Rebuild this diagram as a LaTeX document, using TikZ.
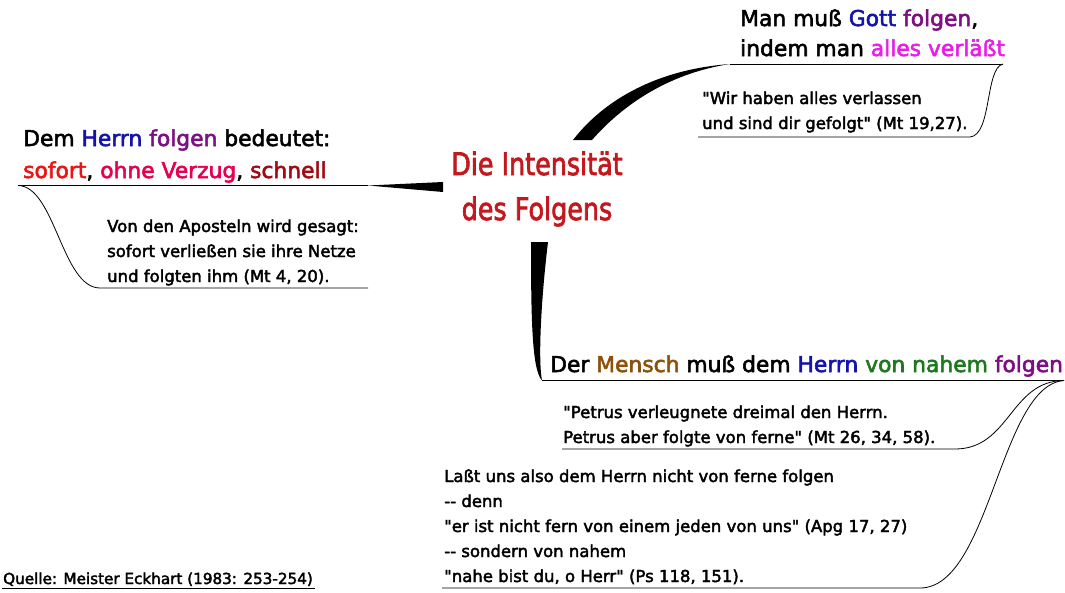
\documentclass[tikz,border=0pt]{standalone}
\usepackage{fontspec}
\usepackage{graphicx}
\usepackage{tikz}
\usetikzlibrary{positioning}

\newfontfamily\handfont[RawFeature={embolden=2.5}]{DejaVu Sans}
\newcommand\narrow[1]{\scalebox{0.82}[1]{#1}}

\definecolor{titlered}{RGB}{195,25,30}
\definecolor{herrnblue}{RGB}{20,20,170}
\definecolor{folgenpurple}{RGB}{125,15,130}
\definecolor{sofortred}{RGB}{235,20,20}
\definecolor{verzugred}{RGB}{230,0,75}
\definecolor{schnellred}{RGB}{160,10,20}
\definecolor{allesmagenta}{RGB}{230,30,230}
\definecolor{menschbrown}{RGB}{140,80,10}
\definecolor{nahemgreen}{RGB}{30,120,30}

\tikzset{
  branch/.style={anchor=base west, inner sep=0pt, align=left,
    font={\handfont\fontsize{21.8}{32}\selectfont}},
  detail/.style={anchor=base west, inner sep=0pt, align=left,
    font={\handfont\fontsize{16.5}{25}\selectfont}},
  twig/.style={line width=0.8pt}
}

\begin{document}
\begin{tikzpicture}[x=1pt,y=-1pt]
  \useasboundingbox (0,0) rectangle (1065,592);

  % centre
  \node[anchor=base, align=center, inner sep=0pt, text=titlered,
    font={\handfont\fontsize{31}{45}\selectfont}] (title) at (537,220)
    {\narrow{Die Intensität}\\\narrow{des Folgens}};

  % left branch
  \node[branch] (dem) at (23,178) {Dem \textcolor{herrnblue}{Herrn} \textcolor{folgenpurple}{folgen} bedeutet:\\
    \textcolor{sofortred}{sofort}, \textcolor{verzugred}{ohne Verzug}, \textcolor{schnellred}{schnell}};
  \node[detail] (apostel) at (107,282) {Von den Aposteln wird gesagt:\\sofort verließen sie ihre Netze\\und folgten ihm (Mt 4, 20).};
  \coordinate (demL) at (18,185.5);
  \coordinate (demR) at (368,185.5);
  \coordinate (titleW) at (443,187);
  \coordinate (apostelL) at (100,288);
  \coordinate (apostelR) at (368,288);
  \draw[twig] (demL) -- (demR);
  \fill (demR) -- ([yshift=5pt]titleW) -- ([yshift=-5pt]titleW) -- cycle;
  \draw[twig] (demL) .. controls (55,186) and (62,288) .. (apostelL) -- (apostelR);

  % upper right branch
  \node[branch] (gott) at (740,56) {Man muß \textcolor{herrnblue}{Gott} \textcolor{folgenpurple}{folgen},\\[-2pt]
    indem man \textcolor{allesmagenta}{alles verläßt}};
  \node[detail] (verlassen) at (702,129) {"Wir haben alles verlassen\\und sind dir gefolgt" (Mt 19,27).};
  \coordinate (gottL) at (730,64);
  \coordinate (gottR) at (1003,64);
  \coordinate (verlassenL) at (698,137);
  \fill (573,140) .. controls (600,105) and (650,70) .. (gottL)
        .. controls (665,74) and (620,108) .. (592,140) -- cycle;
  \draw[twig] (gottL) -- (gottR);
  \draw[twig] (gottR) .. controls (985,68) and (992,135) .. (970,137) -- (verlassenL);

  % lower branch
  \node[branch] (mensch) at (550,372) {Der \textcolor{menschbrown}{Mensch} muß dem \textcolor{herrnblue}{Herrn} \textcolor{nahemgreen}{von nahem} \textcolor{folgenpurple}{folgen}};
  \node[detail] (petrus) at (563,443) {"Petrus verleugnete dreimal den Herrn.\\Petrus aber folgte von ferne" (Mt 26, 34, 58).};
  \node[detail] (fern) at (444,582) {Laßt uns also dem Herrn nicht von ferne folgen\\-- denn\\"er ist nicht fern von einem jeden von uns" (Apg 17, 27)\\-- sondern von nahem\\"nahe bist du, o Herr" (Ps 118, 151).};
  \coordinate (menschL) at (542,380.5);
  \coordinate (menschR) at (1064,380.5);
  \coordinate (petrusL) at (562,449);
  \coordinate (fernL) at (442,588);
  \fill (531,242) .. controls (531,320) and (532,370) .. (menschL)
        .. controls (538,360) and (541,300) .. (548,242) -- cycle;
  \draw[twig] (menschL) -- (menschR);
  \draw[twig] (menschR) .. controls (1010,381) and (1010,449) .. (955,449) -- (petrusL);
  \draw[twig] (menschR) .. controls (1000,385) and (990,588) .. (920,588) -- (fernL);

  % source
  \node[detail, font={\handfont\fontsize{15.2}{25}\selectfont}] (quelle) at (3,584) {Quelle: Meister Eckhart (1983: 253-254)};
  \coordinate (quelleL) at (2,588.3);
  \coordinate (quelleR) at (315,588.3);
  \draw[twig] (quelleL) -- (quelleR);
\end{tikzpicture}
\end{document}
